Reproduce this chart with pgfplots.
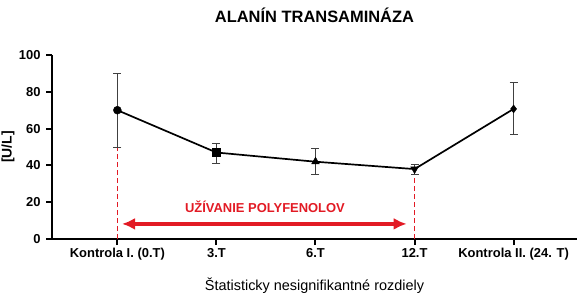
\documentclass[border=0pt]{standalone}
\usepackage{fontspec}
\setmainfont{Liberation Sans}
\usepackage{pgfplots}
\pgfplotsset{compat=1.18}
\usetikzlibrary{arrows.meta}
\definecolor{myred}{RGB}{226,26,36}
\begin{document}
\begin{tikzpicture}
\useasboundingbox (-52bp,-67bp) rectangle (533bp,239bp);
\begin{axis}[
  at={(0,0)}, anchor=south west,
  scale only axis, width=525bp, height=184bp,
  xmin=-0.66, xmax=4.64, ymin=0, ymax=100,
  axis x line*=bottom, axis y line*=left,
  axis line style={line width=2.2pt, black},
  xtick={0,1,2,3,4},
  xticklabels={Kontrola I. (0.T),3.T,6.T,12.T,Kontrola II. (24. T)},
  ytick={0,20,40,60,80,100},
  tick align=outside, major tick length=6bp,
  tick style={black, line width=2pt},
  ticklabel style={font=\fontsize{13}{15}\selectfont\bfseries},
  yticklabel style={xshift=-2bp},
  /pgf/number format/assume math mode=true,
  title={ALANÍN TRANSAMINÁZA},
  title style={font=\fontsize{16.5}{19}\selectfont\bfseries, at={(0.5,1)}, anchor=base, yshift=27bp},
  xlabel={Štatisticky nesignifikantné rozdiely},
  xlabel style={font=\fontsize{14.5}{17}\selectfont, at={(0.5,0)}, anchor=base, yshift=-51bp},
  ylabel={[U/L]},
  ylabel style={font=\fontsize{14}{16}\selectfont\bfseries, at={(axis description cs:-0.0838,0.5)}, anchor=center},
  clip=false,
]
% dashed guides
\addplot[myred, line width=1.6pt, dash pattern=on 5bp off 3bp] coordinates {(0,0) (0,50)};
\addplot[myred, line width=1.6pt, dash pattern=on 5bp off 3bp] coordinates {(3,0) (3,35.3)};
% arrow
\addplot[myred, line width=4bp, {Latex[length=13bp,width=12bp]}-{Latex[length=13bp,width=12bp]}] coordinates {(0.047,8.2) (2.92,8.2)};
\node[text=myred, font=\fontsize{13}{15}\selectfont\bfseries] at (axis cs:1.49,17.4) {UŽÍVANIE POLYFENOLOV};
% error bars
\addplot[draw=none, mark=none, error bars/.cd, y dir=both, y explicit,
  error bar style={line width=0.8pt, black!75},
  error mark options={rotate=90, mark size=4bp, line width=0.8pt, black!75}]
  coordinates {
  (0,70) += (0,20) -= (0,20)
  (1,47) += (0,5.2) -= (0,5.7)
  (2,42) += (0,7.5) -= (0,6.7)
  (3,38) += (0,2.5) -= (0,2.7)
  (4,70.7) += (0,14.5) -= (0,14)
  };
% line
\addplot[black, line width=1.7pt, mark=none] coordinates {(0,70) (1,47) (2,42) (3,38) (4,70.7)};
% markers
\addplot[only marks, mark=*, mark size=4bp, black] coordinates {(0,70)};
\addplot[only marks, mark=square*, mark size=4bp, black] coordinates {(1,47)};
\addplot[only marks, mark=triangle*, mark size=4.5bp, black] coordinates {(2,42)};
\addplot[only marks, mark=triangle*, mark size=4.5bp, black, mark options={rotate=180}] coordinates {(3,38)};
\addplot[only marks, mark=diamond*, mark size=4bp, black] coordinates {(4,70.7)};
\end{axis}
\end{tikzpicture}
\end{document}
